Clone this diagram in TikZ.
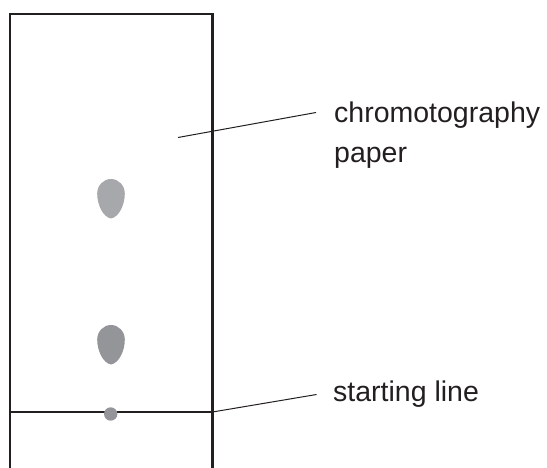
\documentclass[tikz,border=0pt]{standalone}
\usepackage{fontspec}
\setmainfont{Liberation Sans}
\usepackage{tikz}
\definecolor{ink}{HTML}{231F20}
\definecolor{spotlight}{HTML}{A7A8AB}
\definecolor{spotdark}{HTML}{939598}
% teardrop spot: top centre (x,y), fill colour
\def\drop(#1,#2)#3{\fill[#3] (#1,#2+39.5) .. controls (#1-8,#2+38) and (#1-13.8,#2+26) .. (#1-13.8,#2+14.5) arc (180:360:13.8 and 14.5) .. controls (#1+13.8,#2+26) and (#1+8,#2+38) .. (#1,#2+39.5) -- cycle;}

\begin{document}
\begin{tikzpicture}[x=1pt,y=-1pt,
  label/.style={inner sep=0pt,anchor=base west,align=left,text=ink,font=\fontsize{28.5}{40}\selectfont}]
			%%%%% START %%%%%
			\useasboundingbox (0,0) rectangle (547,468);
			
			% paper strip
			\draw[ink,line width=2.1pt] (10,468) -- (10,14) -- (212.5,14) -- (212.5,468);
			\draw[ink,line width=2.1pt] (10,412) -- (212.5,412);
			
			% spots
			\drop(111,179){spotlight}
			\drop(111,325){spotdark}
			\fill[spotdark] (110.7,414) circle (6.7);
			
			% labels
			\node[label] (paperlbl) at (334,163) {chromotography\\paper};
			\node[label] (startlbl) at (333,401) {starting line};
			
			\coordinate (paperpt) at (178,137.5);
			\coordinate (paperend) at (316,112.5);
			\coordinate (startpt) at (212.5,412);
			\coordinate (startend) at (316.5,394.5);
			\draw[ink,line width=1pt] (paperpt) -- (paperend);
			\draw[ink,line width=1pt] (startpt) -- (startend);
			%%%%% END %%%%%
		\end{tikzpicture}
\end{document}
